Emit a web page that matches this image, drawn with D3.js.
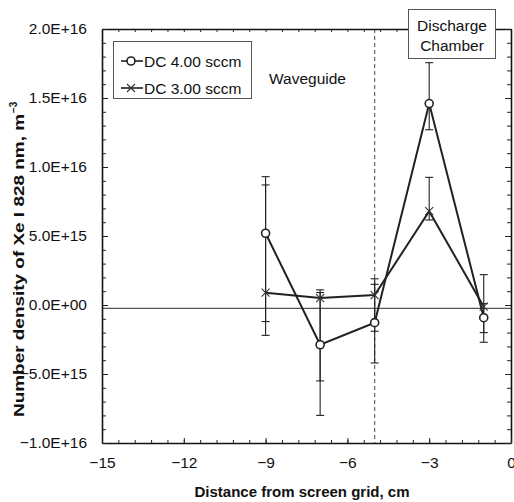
<!DOCTYPE html>
<html>
<head>
<meta charset="utf-8">
<script src="https://cdn.jsdelivr.net/npm/d3@7"></script>
<style>
  body { margin: 0; background: #fff; }
  svg { display: block; font-family: "Liberation Sans", Arial, sans-serif; }
</style>
</head>
<body>
<svg id="chart" width="514" height="502"></svg>
<script>
// Measurement positions (cm from the screen grid)
const positions = [-9, -7, -5, -3, -1];

// DC 4.00 sccm: density and error-bar limits (m^-3)
const dc4Values = [5.2e15, -2.88e15, -1.28e15, 1.46e16, -0.92e15];
const dc4Low    = [-2.2e15, -8.0e15, -4.2e15, 1.27e16, -2.7e15];
const dc4High   = [9.3e15, 1.1e15, 1.9e15, 1.756e16, 2.2e15];

// DC 3.00 sccm: density and error-bar limits (m^-3)
const dc3Values = [0.89e15, 0.5e15, 0.72e15, 6.8e15, -0.12e15];
const dc3Low    = [-1.2e15, -5.5e15, -1.9e15, 6.16e15, -2.0e15];
const dc3High   = [8.7e15, 0.9e15, 1.5e15, 9.25e15, 0.1e15];

const seriesNames = ["DC 4.00 sccm", "DC 3.00 sccm"];

const xTicks = [-15, -12, -9, -6, -3, 0];
const yTicks = [-1e16, -5e15, 0, 5e15, 1e16, 1.5e16, 2e16];
const yTickLabels = ["\u22121.0E+16", "\u22125.0E+15", "0.0E+00", "5.0E+15", "1.0E+16", "1.5E+16", "2.0E+16"];

const baselineValue = -0.25e15;   // horizontal reference line
const boundaryPos = -5;           // waveguide / discharge chamber boundary

const FS = 15.5;

const svg = d3.select("#chart");
const m = { left: 102, right: 511, top: 29, bottom: 443 };

const x = d3.scaleLinear().domain([-15, 0]).range([m.left, m.right]);
const y = d3.scaleLinear().domain([-1e16, 2e16]).range([m.bottom, m.top]);

// minor ticks
const xMinor = d3.range(-15, 0.001, 0.6);
const yMinor = d3.range(-1e16, 2.0001e16, 1e15);

const g = svg.append("g");

// reference lines
g.append("line")
  .attr("x1", m.left).attr("x2", m.right)
  .attr("y1", y(baselineValue)).attr("y2", y(baselineValue))
  .attr("stroke", "#555").attr("stroke-width", 1.2);

g.append("line")
  .attr("x1", x(boundaryPos)).attr("x2", x(boundaryPos))
  .attr("y1", m.top).attr("y2", m.bottom)
  .attr("stroke", "#666").attr("stroke-width", 1.2)
  .attr("stroke-dasharray", "4,3");

// axes (ticks point inward)
function styleAxis(sel) {
  sel.select(".domain").attr("stroke", "#111").attr("stroke-width", 1.6);
  sel.selectAll(".tick line").attr("stroke", "#222").attr("stroke-width", 1);
  sel.selectAll(".tick text").attr("fill", "#111").attr("font-size", FS)
    .attr("font-family", "'Liberation Sans', Arial, sans-serif");
}

g.append("g").attr("transform", `translate(0,${m.bottom})`)
  .call(d3.axisBottom(x).tickValues(xMinor).tickSize(-3).tickFormat("").tickSizeOuter(0)).call(styleAxis);
g.append("g").attr("transform", `translate(0,${m.top})`)
  .call(d3.axisTop(x).tickValues(xMinor).tickSize(-3).tickFormat("").tickSizeOuter(0)).call(styleAxis);
g.append("g").attr("transform", `translate(${m.left},0)`)
  .call(d3.axisLeft(y).tickValues(yMinor).tickSize(-4).tickFormat("").tickSizeOuter(0)).call(styleAxis);
g.append("g").attr("transform", `translate(${m.right},0)`)
  .call(d3.axisRight(y).tickValues(yMinor).tickSize(-4).tickFormat("").tickSizeOuter(0)).call(styleAxis);

// major ticks with labels
const xAxis = d3.axisBottom(x).tickValues(xTicks).tickSize(-5).tickPadding(14)
  .tickFormat(d => d < 0 ? "\u2212" + Math.abs(d) : String(d)).tickSizeOuter(0);
g.append("g").attr("transform", `translate(0,${m.bottom})`).call(xAxis).call(styleAxis)
  .call(s => s.select(".domain").remove());

const yAxis = d3.axisLeft(y).tickValues(yTicks).tickSize(-6).tickPadding(15)
  .tickFormat((d, i) => yTickLabels[i]).tickSizeOuter(0);
g.append("g").attr("transform", `translate(${m.left},0)`).call(yAxis).call(styleAxis)
  .call(s => s.select(".domain").remove());
g.append("g").attr("transform", `translate(${m.right},0)`)
  .call(d3.axisRight(y).tickValues(yTicks).tickSize(-6).tickFormat("").tickSizeOuter(0)).call(styleAxis)
  .call(s => s.select(".domain").remove());

// axis titles
svg.append("text")
  .attr("x", 302).attr("y", 497)
  .attr("text-anchor", "middle")
  .attr("font-size", 15).attr("font-weight", "bold").attr("fill", "#111")
  .text("Distance from screen grid, cm");

const yTitle = svg.append("g").attr("transform", "translate(24,417) rotate(-90)");
yTitle.append("text")
  .attr("x", 0).attr("y", 0)
  .attr("font-size", 15).attr("font-weight", "bold").attr("fill", "#111")
  .attr("textLength", 303).attr("lengthAdjust", "spacingAndGlyphs")
  .text("Number density of Xe I 828 nm, m");
yTitle.append("text")
  .attr("x", 304).attr("y", -7)
  .attr("font-size", 10).attr("font-weight", "bold").attr("fill", "#111")
  .text("\u22123");

// series
const series = [
  { name: seriesNames[0], values: dc4Values, low: dc4Low, high: dc4High, marker: "circle" },
  { name: seriesNames[1], values: dc3Values, low: dc3Low, high: dc3High, marker: "cross" }
];

const line = d3.line().x(d => x(d[0])).y(d => y(d[1]));

function drawMarker(sel, type, cx, cy) {
  if (type === "circle") {
    sel.append("circle").attr("cx", cx).attr("cy", cy).attr("r", 4)
      .attr("fill", "#fff").attr("stroke", "#222").attr("stroke-width", 1.6);
  } else {
    const s = 4;
    sel.append("path")
      .attr("d", `M${cx - s},${cy - s}L${cx + s},${cy + s}M${cx - s},${cy + s}L${cx + s},${cy - s}`)
      .attr("stroke", "#333").attr("stroke-width", 1.1).attr("fill", "none");
  }
}

series.forEach(sr => {
  const eg = g.append("g");
  positions.forEach((p, i) => {
    const cx = x(p);
    eg.append("line").attr("x1", cx).attr("x2", cx)
      .attr("y1", y(sr.low[i])).attr("y2", y(sr.high[i]))
      .attr("stroke", "#222").attr("stroke-width", 1.1);
    [sr.low[i], sr.high[i]].forEach(v => {
      eg.append("line").attr("x1", cx - 4).attr("x2", cx + 4)
        .attr("y1", y(v)).attr("y2", y(v))
        .attr("stroke", "#222").attr("stroke-width", 1.1);
    });
  });
});

series.forEach(sr => {
  g.append("path")
    .datum(positions.map((p, i) => [p, sr.values[i]]))
    .attr("d", line)
    .attr("fill", "none").attr("stroke", "#222").attr("stroke-width", 2);
});

series.forEach(sr => {
  const mg = g.append("g");
  positions.forEach((p, i) => drawMarker(mg, sr.marker, x(p), y(sr.values[i])));
});

// legend
const lg = svg.append("g");
lg.append("rect").attr("x", 113.5).attr("y", 41.5).attr("width", 138).attr("height", 57)
  .attr("fill", "#fff").attr("stroke", "#555").attr("stroke-width", 1);
series.forEach((sr, i) => {
  const cy = 61 + i * 27;
  lg.append("line").attr("x1", 121).attr("x2", 143).attr("y1", cy).attr("y2", cy)
    .attr("stroke", "#222").attr("stroke-width", 1.6);
  drawMarker(lg, sr.marker, 131, cy);
  lg.append("text").attr("x", 144).attr("y", cy + 5.5)
    .attr("font-size", FS).attr("fill", "#111").text(sr.name);
});

// region labels
svg.append("text").attr("x", 269).attr("y", 84)
  .attr("font-size", FS).attr("fill", "#111").text("Waveguide");

const box = svg.append("g");
box.append("rect").attr("x", 408.5).attr("y", 9.5).attr("width", 87).attr("height", 49)
  .attr("fill", "#fff").attr("stroke", "#555").attr("stroke-width", 1);
box.append("text").attr("x", 452).attr("y", 31).attr("text-anchor", "middle")
  .attr("font-size", FS).attr("fill", "#111").text("Discharge");
box.append("text").attr("x", 452).attr("y", 51).attr("text-anchor", "middle")
  .attr("font-size", FS).attr("fill", "#111").text("Chamber");
</script>
</body>
</html>
